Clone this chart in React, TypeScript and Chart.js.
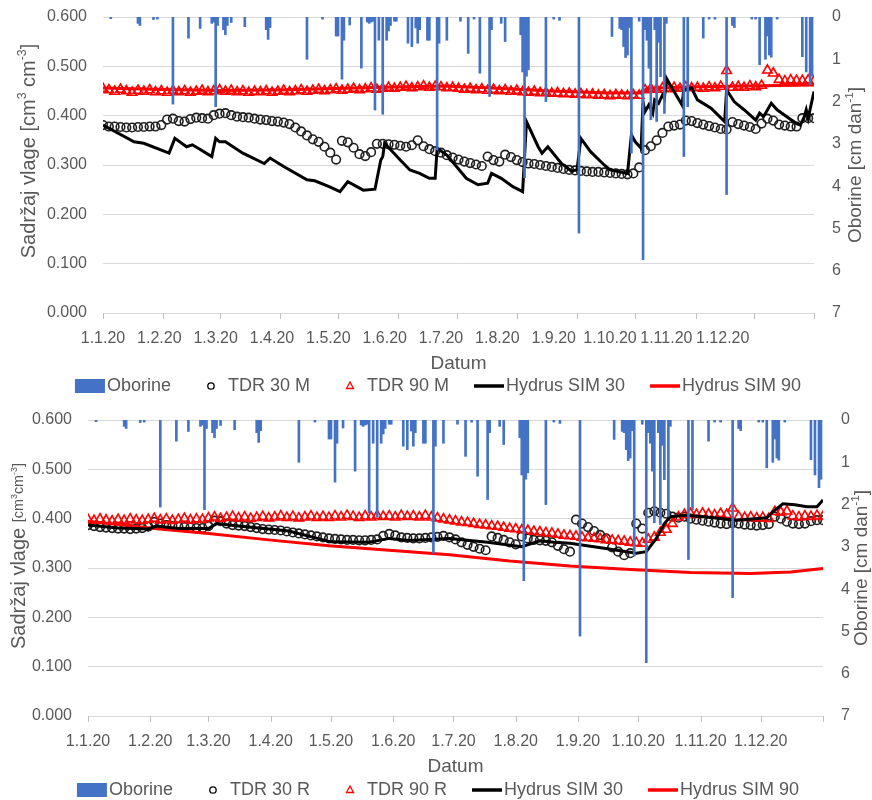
import React, { useEffect, useRef } from "react";
import { Chart, registerables } from "chart.js";

Chart.register(...registerables);

const FONT_FAMILY = "'Liberation Sans', Arial, sans-serif";
const TEXT_COLOR = "#595959";
const GRID_COLOR = "#d9d9d9";
const TICK_MARK_COLOR = "#bfbfbf";
const RAIN_COLOR = "#4472c4";

// x axis: day of year 2020 (0 = 1.1.20)
const DATE_LABELS = ["1.1.20", "1.2.20", "1.3.20", "1.4.20", "1.5.20", "1.6.20", "1.7.20", "1.8.20", "1.9.20", "1.10.20", "1.11.20", "1.12.20"];
const MONTH_START_DAYS = [0, 31, 60, 91, 121, 152, 182, 213, 244, 274, 305, 335, 366];
const YEAR_DAYS = 366;
const MOISTURE_TICKS_MAX = 0.6;
const RAIN_TICKS_MAX = 7;

// Oborine (precipitation) [cm/day]
const RAIN_DAYS = [4, 18, 19, 26, 28, 36, 44, 50, 56, 57, 58, 59, 62, 63, 64, 66, 73, 84, 85, 86, 105, 113, 120, 121, 123, 124, 127, 133, 136, 137, 138, 139, 140, 142, 144, 146, 147, 148, 150, 151, 157, 159, 161, 162, 163, 167, 168, 172, 173, 177, 184, 188, 191, 194, 199, 200, 205, 207, 215, 216, 217, 218, 219, 228, 232, 235, 245, 262, 266, 267, 268, 269, 270, 271, 272, 276, 278, 279, 280, 281, 282, 284, 285, 286, 287, 289, 290, 299, 301, 309, 312, 315, 321, 324, 325, 334, 336, 338, 341, 342, 343, 344, 347, 360, 362, 364, 365];
const RAIN_CM = [0.04, 0.15, 0.2, 0.06, 0.05, 2.06, 0.5, 0.27, 0.15, 0.12, 2.12, 0.2, 0.3, 0.42, 0.2, 0.13, 0.23, 0.3, 0.53, 0.25, 1.0, 0.05, 0.45, 0.45, 1.47, 0.55, 0.19, 1.21, 0.12, 0.15, 0.12, 0.1, 2.2, 0.55, 2.3, 0.55, 0.33, 0.2, 0.1, 0.1, 0.62, 0.7, 0.26, 0.62, 0.3, 0.55, 0.55, 3.15, 0.62, 0.55, 0.1, 0.86, 0.05, 1.33, 1.88, 0.3, 0.15, 0.58, 0.42, 1.3, 3.8, 1.4, 1.25, 2.0, 0.05, 0.08, 5.11, 0.46, 0.27, 0.3, 0.7, 0.96, 0.9, 0.25, 3.22, 0.1, 5.74, 0.3, 0.55, 1.21, 2.43, 0.3, 2.47, 0.6, 1.41, 2.28, 0.15, 3.3, 2.12, 0.5, 0.05, 0.05, 4.2, 0.2, 0.25, 0.05, 0.05, 1.13, 1.0, 0.45, 0.9, 0.95, 0.05, 0.94, 1.3, 1.6, 1.4];

// TDR measurements, one value every TDR_STEP days from 1.1.20
const TDR_STEP = 3;
const TDR30_M = [
  0.381, 0.378, 0.378, 0.377, 0.376, 0.376, 0.377, 0.377, 0.378, 0.378,
  0.381, 0.392, 0.394, 0.389, 0.388, 0.393, 0.396, 0.395, 0.394, 0.401,
  0.404, 0.405, 0.401, 0.398, 0.397, 0.396, 0.394, 0.392, 0.391, 0.389,
  0.388, 0.386, 0.383, 0.376, 0.368, 0.360, 0.352, 0.347, 0.337, 0.325,
  0.311, 0.349, 0.346, 0.335, 0.322, 0.318, 0.326, 0.343, 0.343, 0.342,
  0.341, 0.339, 0.337, 0.340, 0.350, 0.338, 0.332, 0.328, 0.325, 0.320,
  0.315, 0.311, 0.307, 0.304, 0.301, 0.298, 0.317, 0.310, 0.307, 0.321,
  0.316, 0.310, 0.306, 0.303, 0.302, 0.300, 0.298, 0.296, 0.294, 0.292,
  0.290, 0.289, 0.288, 0.287, 0.286, 0.286, 0.285, 0.284, 0.283, 0.282,
  0.281, 0.283, 0.295, 0.330, 0.338, 0.350, 0.365, 0.378, 0.380, 0.382,
  0.390, 0.389, 0.385, 0.382, 0.379, 0.376, 0.373, 0.372, 0.387, 0.383,
  0.380, 0.377, 0.373, 0.384, 0.394, 0.390, 0.382, 0.380, 0.378, 0.378,
  0.395, 0.395, 0.395,
];
const TDR90_M = [
  0.455, 0.452, 0.449, 0.453, 0.450, 0.447, 0.451, 0.449, 0.452, 0.448,
  0.450, 0.447, 0.451, 0.448, 0.450, 0.447, 0.449, 0.451, 0.448, 0.450,
  0.452, 0.449, 0.451, 0.448, 0.450, 0.447, 0.449, 0.448, 0.450, 0.447,
  0.449, 0.451, 0.448, 0.450, 0.452, 0.449, 0.451, 0.453, 0.450, 0.452,
  0.454, 0.451, 0.453, 0.455, 0.452, 0.454, 0.456, 0.453, 0.455, 0.457,
  0.455, 0.457, 0.459, 0.456, 0.458, 0.460, 0.457, 0.459, 0.458, 0.456,
  0.457, 0.455, 0.453, 0.455, 0.452, 0.454, 0.451, 0.453, 0.450, 0.452,
  0.449, 0.451, 0.448, 0.447, 0.449, 0.446, 0.447, 0.445, 0.446, 0.444,
  0.445, 0.443, 0.444, 0.442, 0.443, 0.441, 0.442, 0.440, 0.442, 0.441,
  0.440, 0.442, 0.441, 0.452, 0.455, 0.453, 0.456, 0.454, 0.457, 0.455,
  0.458, 0.456, 0.457, 0.455, 0.458, 0.456, 0.459, 0.491, 0.457, 0.459,
  0.457, 0.460, 0.458, 0.461, 0.492, 0.486, 0.473, 0.470, 0.472, 0.471,
  0.471, 0.472, 0.470,
];
const TDR30_R = [
  0.387, 0.385, 0.383, 0.382, 0.381, 0.380, 0.380, 0.379, 0.380, 0.381,
  0.384, 0.393, 0.390, 0.387, 0.385, 0.384, 0.383, 0.382, 0.381, 0.381,
  0.385, 0.396, 0.395, 0.390, 0.387, 0.386, 0.385, 0.383, 0.381, 0.379,
  0.378, 0.377, 0.376, 0.374, 0.372, 0.370, 0.368, 0.366, 0.364, 0.362,
  0.360, 0.359, 0.358, 0.357, 0.357, 0.356, 0.356, 0.357, 0.358, 0.365,
  0.369, 0.366, 0.362, 0.361, 0.360, 0.360, 0.361, 0.362, 0.363, 0.365,
  0.362, 0.358, 0.352, 0.347, 0.343, 0.339, 0.336, 0.364, 0.361, 0.357,
  0.352, 0.348, 0.364, 0.360, 0.357, 0.356, 0.355, 0.352, 0.345, 0.338,
  0.333, 0.398, 0.390, 0.383, 0.375, 0.367, 0.360, 0.342, 0.333, 0.326,
  0.330, 0.390, 0.380, 0.412, 0.415, 0.412, 0.410, 0.404, 0.402, 0.404,
  0.400, 0.398, 0.396, 0.394, 0.392, 0.390, 0.389, 0.391, 0.390, 0.388,
  0.387, 0.386, 0.387, 0.389, 0.404, 0.400, 0.394, 0.390, 0.389, 0.390,
  0.395, 0.397, 0.397,
];
const TDR90_R = [
  0.398, 0.396, 0.399, 0.397, 0.395, 0.398, 0.396, 0.399, 0.397, 0.396,
  0.398, 0.400, 0.397, 0.399, 0.396, 0.398, 0.400, 0.397, 0.399, 0.398,
  0.401, 0.403, 0.400, 0.402, 0.404, 0.401, 0.403, 0.400, 0.402, 0.404,
  0.401, 0.403, 0.405, 0.402, 0.404, 0.401, 0.403, 0.405, 0.402, 0.404,
  0.402, 0.405, 0.403, 0.406, 0.404, 0.402, 0.405, 0.403, 0.406, 0.404,
  0.405, 0.403, 0.406, 0.404, 0.405, 0.403, 0.406, 0.403, 0.401, 0.399,
  0.397, 0.395, 0.393, 0.392, 0.390, 0.388, 0.387, 0.385, 0.384, 0.382,
  0.380, 0.379, 0.377, 0.376, 0.374, 0.373, 0.371, 0.370, 0.368, 0.366,
  0.365, 0.364, 0.362, 0.361, 0.360, 0.359, 0.357, 0.356, 0.355, 0.354,
  0.352, 0.351, 0.350, 0.358, 0.362, 0.372, 0.378, 0.390, 0.403, 0.408,
  0.410, 0.408, 0.411, 0.409, 0.407, 0.410, 0.408, 0.421, 0.404, 0.402,
  0.403, 0.401, 0.402, 0.400, 0.414, 0.413, 0.415, 0.405, 0.403, 0.405,
  0.404, 0.406, 0.404,
];

// Hydrus simulations (day of year, value)
const SIM30_M_DAYS = [0, 16, 21, 34, 37, 43, 46, 49, 56, 58, 60, 63, 72, 83, 86, 93, 105, 109, 117, 122, 126, 134, 140, 143, 144, 145, 153, 158, 163, 168, 171, 172, 177, 187, 193, 198, 200, 205, 211, 216, 218, 224, 226, 229, 236, 241, 244, 246, 251, 258, 261, 270, 272, 274, 277, 278, 279, 281, 283, 284, 286, 288, 289, 290, 292, 298, 299, 303, 306, 313, 320, 321, 325, 330, 336, 338, 340, 344, 347, 352, 357, 359, 361, 362, 363, 366];
const SIM30_M = [0.381, 0.347, 0.344, 0.324, 0.354, 0.337, 0.341, 0.334, 0.317, 0.354, 0.347, 0.347, 0.324, 0.303, 0.314, 0.297, 0.270, 0.268, 0.255, 0.246, 0.266, 0.249, 0.251, 0.310, 0.317, 0.344, 0.310, 0.290, 0.283, 0.273, 0.273, 0.334, 0.320, 0.273, 0.260, 0.263, 0.283, 0.273, 0.256, 0.246, 0.388, 0.337, 0.324, 0.337, 0.303, 0.288, 0.290, 0.354, 0.327, 0.300, 0.290, 0.283, 0.361, 0.347, 0.334, 0.428, 0.408, 0.422, 0.405, 0.432, 0.425, 0.442, 0.435, 0.476, 0.462, 0.422, 0.452, 0.456, 0.432, 0.415, 0.388, 0.452, 0.428, 0.412, 0.391, 0.405, 0.398, 0.425, 0.412, 0.398, 0.384, 0.381, 0.398, 0.412, 0.395, 0.449];
const SIM90_M_DAYS = [0, 30, 60, 90, 120, 150, 175, 200, 230, 260, 277, 280, 300, 330, 366];
const SIM90_M = [0.456, 0.453, 0.451, 0.452, 0.455, 0.458, 0.460, 0.456, 0.450, 0.446, 0.446, 0.455, 0.458, 0.460, 0.462];
const SIM30_R_DAYS = [0, 15, 30, 34, 45, 60, 64, 75, 100, 121, 140, 150, 160, 180, 199, 216, 225, 232, 240, 257, 273, 278, 283, 287, 290, 297, 307, 323, 338, 341, 346, 352, 358, 363, 366];
const SIM30_R = [0.387, 0.381, 0.379, 0.385, 0.380, 0.380, 0.390, 0.385, 0.375, 0.353, 0.352, 0.360, 0.356, 0.360, 0.352, 0.343, 0.355, 0.352, 0.350, 0.340, 0.330, 0.333, 0.360, 0.390, 0.404, 0.407, 0.404, 0.397, 0.402, 0.414, 0.430, 0.428, 0.424, 0.424, 0.438];
const SIM90_R_DAYS = [0, 33, 60, 90, 120, 150, 180, 210, 240, 270, 300, 330, 350, 366];
const SIM90_R = [0.395, 0.380, 0.370, 0.357, 0.345, 0.336, 0.327, 0.314, 0.304, 0.297, 0.291, 0.289, 0.292, 0.299];

type Seg = { t: string; sup?: boolean; small?: boolean };

const LEFT_TITLE_TOP: Seg[] = [{ t: "Sadržaj vlage [cm" }, { t: "3", sup: true }, { t: " cm" }, { t: "-3", sup: true }, { t: "]" }];
const LEFT_TITLE_BOTTOM: Seg[] = [
  { t: "Sadržaj vlage " },
  { t: "[cm", small: true },
  { t: "3", sup: true, small: true },
  { t: "cm", small: true },
  { t: "-3", sup: true, small: true },
  { t: "]", small: true },
];
const RIGHT_TITLE: Seg[] = [{ t: "Oborine [cm dan" }, { t: "-1", sup: true }, { t: "]" }];

type LegendItem = { kind: "box" | "circle" | "triangle" | "line"; color: string; text: string };

type PanelCfg = {
  tdr30: number[];
  tdr90: number[];
  sim30Days: number[];
  sim30: number[];
  sim90Days: number[];
  sim90: number[];
  tdr30Name: string;
  tdr90Name: string;
  labelDays: number[];
  leftWidth: number;
  rightWidth: number;
  padTop: number;
  padBottom: number;
  xAxisHeight: number;
  leftTitle: Seg[];
  leftTitleSize: number;
  leftTitleX: number;
  leftTitleDy: number;
  rightTitleX: number;
  legendY: number;
};

function drawRotatedRich(ctx: CanvasRenderingContext2D, segs: Seg[], cx: number, cy: number, size: number) {
  ctx.save();
  ctx.translate(cx, cy);
  ctx.rotate(-Math.PI / 2);
  ctx.fillStyle = TEXT_COLOR;
  ctx.textBaseline = "middle";
  ctx.textAlign = "left";
  const baseOf = (s: Seg) => size * (s.small ? 0.72 : 1);
  const sizeOf = (s: Seg) => baseOf(s) * (s.sup ? 0.62 : 1);
  const widths = segs.map((s) => {
    ctx.font = `${sizeOf(s)}px ${FONT_FAMILY}`;
    return ctx.measureText(s.t).width;
  });
  const total = widths.reduce((a, b) => a + b, 0);
  let x = -total / 2;
  segs.forEach((s, i) => {
    ctx.font = `${sizeOf(s)}px ${FONT_FAMILY}`;
    ctx.fillText(s.t, x, s.sup ? -baseOf(s) * 0.33 : 0);
    x += widths[i];
  });
  ctx.restore();
}

function drawLegendSymbol(ctx: CanvasRenderingContext2D, it: LegendItem, x: number, y: number, w: number) {
  ctx.save();
  if (it.kind === "box") {
    ctx.fillStyle = it.color;
    ctx.fillRect(x, y - 7, w, 14);
  } else if (it.kind === "line") {
    ctx.strokeStyle = it.color;
    ctx.lineWidth = 3.5;
    ctx.beginPath();
    ctx.moveTo(x, y);
    ctx.lineTo(x + w, y);
    ctx.stroke();
  } else if (it.kind === "circle") {
    ctx.strokeStyle = it.color;
    ctx.lineWidth = 1.3;
    ctx.beginPath();
    ctx.arc(x + w / 2, y, 3.2, 0, Math.PI * 2);
    ctx.stroke();
  } else {
    ctx.strokeStyle = it.color;
    ctx.lineWidth = 1.3;
    const cx = x + w / 2;
    ctx.beginPath();
    ctx.moveTo(cx, y - 4);
    ctx.lineTo(cx + 3.5, y + 2.5);
    ctx.lineTo(cx - 3.5, y + 2.5);
    ctx.closePath();
    ctx.stroke();
  }
  ctx.restore();
}

function buildConfig(p: PanelCfg): any {
  const tickFont = { family: FONT_FAMILY, size: 16 };
  const legendItems: LegendItem[] = [
    { kind: "box", color: RAIN_COLOR, text: "Oborine" },
    { kind: "circle", color: "#000000", text: p.tdr30Name },
    { kind: "triangle", color: "#ff0000", text: p.tdr90Name },
    { kind: "line", color: "#000000", text: "Hydrus SIM 30" },
    { kind: "line", color: "#ff0000", text: "Hydrus SIM 90" },
  ];

  const decorations = {
    id: "decorations",
    afterDraw(chart: any) {
      const ctx: CanvasRenderingContext2D = chart.ctx;
      const area = chart.chartArea;
      const xs = chart.scales.x;
      // month tick marks
      ctx.save();
      ctx.strokeStyle = TICK_MARK_COLOR;
      ctx.lineWidth = 1;
      ctx.beginPath();
      MONTH_START_DAYS.forEach((d) => {
        const px = Math.round(xs.getPixelForValue(d)) + 0.5;
        ctx.moveTo(px, area.bottom);
        ctx.lineTo(px, area.bottom + 6);
      });
      ctx.stroke();
      ctx.restore();
      // axis titles
      const midY = (area.top + area.bottom) / 2;
      drawRotatedRich(ctx, p.leftTitle, p.leftTitleX, midY + p.leftTitleDy, p.leftTitleSize);
      drawRotatedRich(ctx, RIGHT_TITLE, p.rightTitleX, midY, 19);
      // legend
      ctx.save();
      ctx.font = `18px ${FONT_FAMILY}`;
      const SYM = 30;
      const GAP = 25;
      const widths = legendItems.map((it) => SYM + 2 + ctx.measureText(it.text).width);
      const total = widths.reduce((a, b) => a + b, 0) + GAP * (legendItems.length - 1);
      let x = chart.width / 2 + 2 - total / 2;
      legendItems.forEach((it, i) => {
        drawLegendSymbol(ctx, it, x, p.legendY, SYM);
        ctx.fillStyle = TEXT_COLOR;
        ctx.textBaseline = "middle";
        ctx.textAlign = "left";
        ctx.font = `18px ${FONT_FAMILY}`;
        ctx.fillText(it.text, x + SYM + 2, p.legendY);
        x += widths[i] + GAP;
      });
      ctx.restore();
    },
  };

  const fixVertical = (width: number) => (scale: any) => {
    scale.width = width;
    scale.paddingTop = 0;
    scale.paddingBottom = 0;
  };

  return {
    type: "scatter",
    data: {
      datasets: [
        {
          type: "bar",
          label: "Oborine",
          data: RAIN_DAYS.map((d, i) => ({ x: d, y: RAIN_CM[i] })),
          backgroundColor: RAIN_COLOR,
          borderWidth: 0,
          barThickness: 2,
          grouped: false,
          xAxisID: "x",
          yAxisID: "rain",
          order: 0,
        },
        {
          type: "scatter",
          label: p.tdr30Name,
          data: p.tdr30.map((v, i) => ({ x: i * TDR_STEP, y: v })),
          pointStyle: "circle",
          pointRadius: 4.3,
          borderColor: "#1f1f1f",
          backgroundColor: "rgba(0,0,0,0)",
          borderWidth: 1.6,
          showLine: false,
          yAxisID: "y",
          order: 4,
        },
        {
          type: "scatter",
          label: p.tdr90Name,
          data: p.tdr90.map((v, i) => ({ x: i * TDR_STEP, y: v })),
          pointStyle: "triangle",
          pointRadius: 5.5,
          borderColor: "#ff0000",
          backgroundColor: "rgba(0,0,0,0)",
          borderWidth: 1.6,
          showLine: false,
          yAxisID: "y",
          order: 3,
        },
        {
          type: "line",
          label: "Hydrus SIM 30",
          data: p.sim30Days.map((d, i) => ({ x: d, y: p.sim30[i] })),
          borderColor: "#000000",
          borderWidth: 3,
          pointRadius: 0,
          tension: 0,
          fill: false,
          yAxisID: "y",
          order: 1,
        },
        {
          type: "line",
          label: "Hydrus SIM 90",
          data: p.sim90Days.map((d, i) => ({ x: d, y: p.sim90[i] })),
          borderColor: "#ff0000",
          borderWidth: 3,
          pointRadius: 0,
          tension: 0,
          fill: false,
          yAxisID: "y",
          order: 2,
        },
      ],
    },
    options: {
      responsive: false,
      animation: false,
      events: [],
      layout: { padding: { top: p.padTop, bottom: p.padBottom, left: 0, right: 0 } },
      plugins: { legend: { display: false }, tooltip: { enabled: false }, title: { display: false } },
      scales: {
        x: {
          type: "linear",
          position: "bottom",
          min: 0,
          max: YEAR_DAYS,
          offset: false,
          grid: { display: false, drawTicks: false },
          border: { display: false },
          ticks: {
            color: TEXT_COLOR,
            font: tickFont,
            padding: 16,
            autoSkip: false,
            maxRotation: 0,
            minRotation: 0,
            callback: (_v: any, i: number) => DATE_LABELS[i],
          },
          afterBuildTicks: (scale: any) => {
            scale.ticks = p.labelDays.map((d) => ({ value: d }));
          },
          afterFit: (scale: any) => {
            scale.height = p.xAxisHeight;
          },
          title: { display: true, text: "Datum", color: TEXT_COLOR, font: { family: FONT_FAMILY, size: 19 }, padding: 0 },
        },
        y: {
          type: "linear",
          position: "left",
          min: 0,
          max: MOISTURE_TICKS_MAX,
          grid: { color: GRID_COLOR, lineWidth: 1, drawTicks: false },
          border: { display: false },
          ticks: {
            stepSize: 0.1,
            color: TEXT_COLOR,
            font: tickFont,
            padding: 16,
            callback: (v: any) => Number(v).toFixed(3),
          },
          afterFit: fixVertical(p.leftWidth),
        },
        rain: {
          type: "linear",
          position: "right",
          min: 0,
          max: RAIN_TICKS_MAX,
          reverse: true,
          grid: { display: false, drawTicks: false },
          border: { display: false },
          ticks: {
            stepSize: 1,
            color: TEXT_COLOR,
            font: tickFont,
            padding: 18,
            callback: (v: any) => String(v),
          },
          afterFit: fixVertical(p.rightWidth),
        },
      },
    },
    plugins: [decorations],
  };
}

const TOP_PANEL: PanelCfg = {
  tdr30: TDR30_M,
  tdr90: TDR90_M,
  sim30Days: SIM30_M_DAYS,
  sim30: SIM30_M,
  sim90Days: SIM90_M_DAYS,
  sim90: SIM90_M,
  tdr30Name: "TDR 30 M",
  tdr90Name: "TDR 90 M",
  labelDays: DATE_LABELS.map((_, i) => i * 29),
  leftWidth: 103,
  rightWidth: 58,
  padTop: 17,
  padBottom: 25,
  xAxisHeight: 62,
  leftTitle: LEFT_TITLE_TOP,
  leftTitleSize: 20,
  leftTitleX: 29,
  leftTitleDy: -14,
  rightTitleX: 856,
  legendY: 386,
};

const BOTTOM_PANEL: PanelCfg = {
  tdr30: TDR30_R,
  tdr90: TDR90_R,
  sim30Days: SIM30_R_DAYS,
  sim30: SIM30_R,
  sim90Days: SIM90_R_DAYS,
  sim90: SIM90_R,
  tdr30Name: "TDR 30 R",
  tdr90Name: "TDR 90 R",
  labelDays: MONTH_START_DAYS.slice(0, 12),
  leftWidth: 88,
  rightWidth: 49,
  padTop: 20,
  padBottom: 22,
  xAxisHeight: 62,
  leftTitle: LEFT_TITLE_BOTTOM,
  leftTitleSize: 20,
  leftTitleX: 19,
  leftTitleDy: -12,
  rightTitleX: 862,
  legendY: 390,
};

function ChartPanel({ panel, top }: { panel: PanelCfg; top: number }) {
  const ref = useRef<HTMLCanvasElement | null>(null);
  useEffect(() => {
    if (!ref.current) return;
    const chart = new Chart(ref.current, buildConfig(panel));
    return () => chart.destroy();
  }, [panel]);
  return (
    <canvas
      ref={ref}
      width={872}
      height={400}
      style={{ position: "absolute", left: 0, top, width: 872, height: 400, display: "block" }}
    />
  );
}

export default function App() {
  return (
    <div style={{ position: "absolute", left: 0, top: 0, width: 872, height: 800, background: "#ffffff", overflow: "hidden" }}>
      <ChartPanel panel={TOP_PANEL} top={0} />
      <ChartPanel panel={BOTTOM_PANEL} top={400} />
    </div>
  );
}
